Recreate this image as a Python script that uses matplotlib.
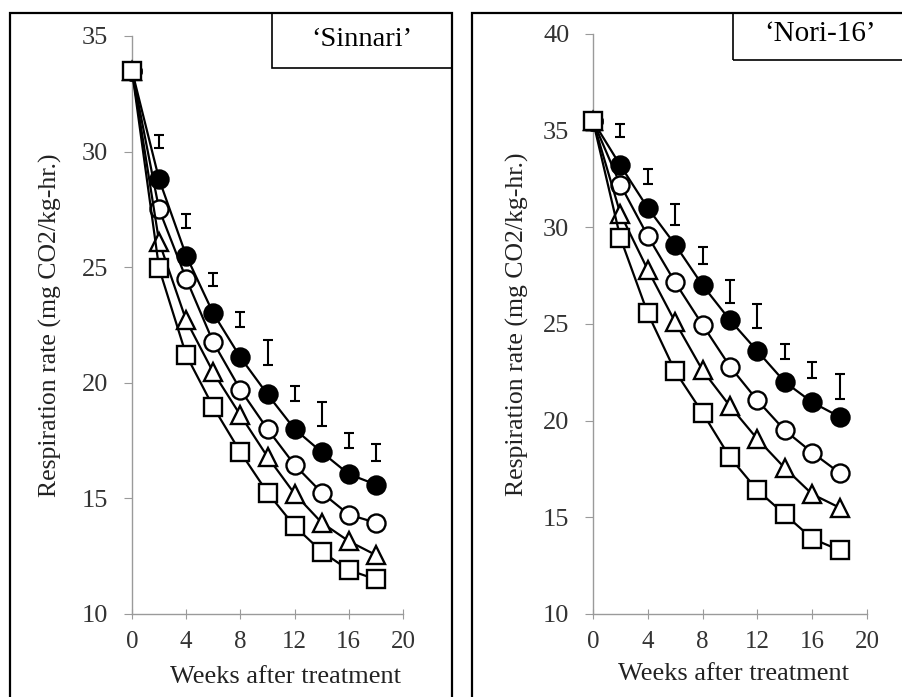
import matplotlib
matplotlib.use("Agg")
import matplotlib.pyplot as plt
from matplotlib.patches import Rectangle

plt.rcParams['font.family'] = ['Liberation Serif', 'DejaVu Serif']

weeks = [0, 2, 4, 6, 8, 10, 12, 14, 16, 18]
bar_weeks = [2, 4, 6, 8, 10, 12, 14, 16, 18]

# 'Sinnari'
sinnari_filled = [33.5, 28.8, 25.5, 23.0, 21.1, 19.5, 18.0, 17.0, 16.05, 15.6]
sinnari_open = [33.5, 27.5, 24.5, 21.75, 19.7, 18.0, 16.45, 15.25, 14.3, 13.95]
sinnari_tri = [33.5, 26.1, 22.7, 20.45, 18.6, 16.8, 15.2, 13.95, 13.15, 12.55]
sinnari_sq = [33.5, 24.95, 21.2, 18.95, 17.0, 15.25, 13.8, 12.7, 11.9, 11.5]
sinnari_lsd_mid = [30.45, 27.0, 24.45, 22.75, 21.3, 19.55, 18.65, 17.5, 17.0]
sinnari_lsd_half = [0.28, 0.32, 0.28, 0.32, 0.54, 0.32, 0.54, 0.32, 0.37]

# 'Nori-16'
nori_filled = [35.5, 33.2, 31.0, 29.1, 27.0, 25.2, 23.6, 22.0, 20.95, 20.2]
nori_open = [35.5, 32.2, 29.55, 27.15, 24.95, 22.8, 21.05, 19.5, 18.35, 17.3]
nori_tri = [35.5, 30.7, 27.8, 25.1, 22.6, 20.75, 19.05, 17.55, 16.2, 15.5]
nori_sq = [35.5, 29.45, 25.55, 22.55, 20.4, 18.1, 16.4, 15.15, 13.9, 13.3]
nori_lsd_mid = [35.0, 32.65, 30.65, 28.55, 26.7, 25.4, 23.6, 22.6, 21.75]
nori_lsd_half = [0.34, 0.39, 0.54, 0.44, 0.59, 0.62, 0.39, 0.41, 0.65]

x_ticks = [0, 4, 8, 12, 16, 20]
sinnari_yticks = [10, 15, 20, 25, 30, 35]
nori_yticks = [10, 15, 20, 25, 30, 35, 40]

AXIS_GREY = '#9a9a9a'


def draw_panel(ax, series, lsd_mid, lsd_half, yticks, xlab_pos, ylab_pos):
    styles = [
        dict(marker='o', mfc='black'),
        dict(marker='o', mfc='white'),
        dict(marker='^', mfc='white'),
        dict(marker='s', mfc='white'),
    ]
    for values, st in zip(series, styles):
        ax.plot(weeks, values, color='black', lw=1.6, marker=st['marker'],
                mfc=st['mfc'], mec='black', mew=1.7, ms=13, clip_on=False, zorder=3)

    ax.errorbar(bar_weeks, lsd_mid, yerr=lsd_half, fmt='none', ecolor='black',
                elinewidth=1.5, capsize=3.8, capthick=1.5, zorder=4)

    ax.set_xlim(0, 20)
    ax.set_ylim(yticks[0], yticks[-1])
    ax.set_xticks(x_ticks)
    ax.set_yticks(yticks)
    for side in ['top', 'right']:
        ax.spines[side].set_visible(False)
    for side in ['left', 'bottom']:
        ax.spines[side].set_color(AXIS_GREY)
        ax.spines[side].set_linewidth(1.0)
    ax.tick_params(axis='y', direction='out', length=6, color=AXIS_GREY,
                   labelsize=19, labelcolor='#333333', pad=11)
    ax.tick_params(axis='x', direction='inout', length=7, color=AXIS_GREY,
                   labelsize=18, labelcolor='#333333', pad=9)

    ax.set_xlabel('Weeks after treatment', fontsize=19, color='#222222')
    ax.set_ylabel('Respiration rate (mg CO2/kg-hr.)', fontsize=18.5, color='#222222')
    ax.xaxis.label.set_verticalalignment('center')
    ax.yaxis.label.set_verticalalignment('center')
    ax.xaxis.set_label_coords(*xlab_pos)
    ax.yaxis.set_label_coords(*ylab_pos)


W, H = 902, 697
fig = plt.figure(figsize=(W / 100, H / 100), dpi=100)


def px_axes(x0, x1, y_top, y_bot):
    return fig.add_axes([x0 / W, 1 - y_bot / H, (x1 - x0) / W, (y_bot - y_top) / H])


ax1 = px_axes(132, 403, 36, 614)
ax2 = px_axes(593, 867, 34, 614)

draw_panel(ax1, [sinnari_filled, sinnari_open, sinnari_tri, sinnari_sq],
           sinnari_lsd_mid, sinnari_lsd_half, sinnari_yticks,
           (0.566, -0.109), (-0.30, 0.5))
draw_panel(ax2, [nori_filled, nori_open, nori_tri, nori_sq],
           nori_lsd_mid, nori_lsd_half, nori_yticks,
           (0.513, -0.104), (-0.275, 0.5))


# outer panel frames and the cultivar label boxes (pixel coords)
def px_rect(x0, y0, x1, y1, lw):
    fig.patches.append(Rectangle((x0 / W, 1 - y1 / H), (x1 - x0) / W, (y1 - y0) / H,
                                 transform=fig.transFigure, fill=False,
                                 edgecolor='black', lw=lw))


px_rect(10, 13, 452, 720, 1.6)
px_rect(472, 13, 930, 720, 1.6)
px_rect(272, 13, 452, 68, 1.2)
px_rect(733, 13, 930, 60, 1.2)

fig.text(362 / W, 1 - 40 / H, '\u2018Sinnari\u2019', ha='center', va='center', fontsize=20.5)
fig.text(820 / W, 1 - 34 / H, '\u2018Nori-16\u2019', ha='center', va='center', fontsize=21)

fig.savefig('out.png', dpi=100)
